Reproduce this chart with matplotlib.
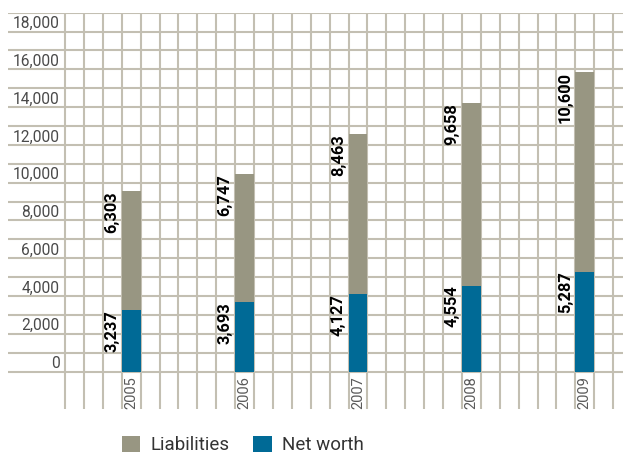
import matplotlib
matplotlib.use('Agg')
import matplotlib.pyplot as plt

# values
years = ['2005', '2006', '2007', '2008', '2009']
net_worth = [3237, 3693, 4127, 4554, 5287]
liabilities = [6303, 6747, 8463, 9658, 10600]
tick_values = list(range(0, 18001, 2000))

GRAY = '#989682'
BLUE = '#006a96'
GRID = '#c3bfb2'
TEXT = '#4a4a4a'

plt.rcParams['font.family'] = ['Roboto', 'DejaVu Sans']

fig = plt.figure(figsize=(6.23, 4.53), dpi=100)
W, H = 623, 453
ax = fig.add_axes([8 / W, (H - 409.4) / H, (W - 8) / W, (409.4 - 12.7) / H])
ax.set_xlim(-3.02, 29.52)
ax.set_ylim(-2000, 19000)
ax.axis('off')

# square grid: one cell = 1000 high, 1 unit wide
ax.hlines(range(0, 19001, 1000), -3.02, 29.52, color=GRID, lw=1.5, zorder=1)
ax.vlines(range(0, 30), -2000, 19000, color=GRID, lw=1.5, zorder=1)

xs = [3 + 6 * i for i in range(len(years))]
ax.bar(xs, net_worth, width=1, align='edge', color=BLUE, zorder=3, label='Net worth')
ax.bar(xs, liabilities, width=1, align='edge', bottom=net_worth, color=GRAY, zorder=3, label='Liabilities')

for x, yr, nw, li in zip(xs, years, net_worth, liabilities):
    ax.text(x + 0.5, -250, yr, rotation=90, ha='center', va='top',
            fontsize=10.5, color='#5a5a5a', zorder=4)
    ax.text(x - 0.14, nw, f'{nw:,}', rotation=90, ha='right', va='top',
            fontsize=11.8, fontweight='bold', color='black', zorder=4)
    ax.text(x - 0.14, nw + li, f'{li:,}', rotation=90, ha='right', va='top',
            fontsize=11.8, fontweight='bold', color='black', zorder=4)

for v in tick_values:
    ax.text(-0.3, v + 190, f'{v:,}', ha='right', va='baseline',
            fontsize=11.2, color=TEXT)

handles, labels = ax.get_legend_handles_labels()
fig.legend(handles[::-1], labels[::-1], loc='lower left', bbox_to_anchor=(121.7 / W, -0.003),
           ncol=2, frameon=False, fontsize=13.5, handlelength=1.0, handleheight=1.0,
           handletextpad=0.55, columnspacing=1.25, borderpad=0, borderaxespad=0,
           labelcolor='#333333')

fig.savefig('out.png', dpi=100)
